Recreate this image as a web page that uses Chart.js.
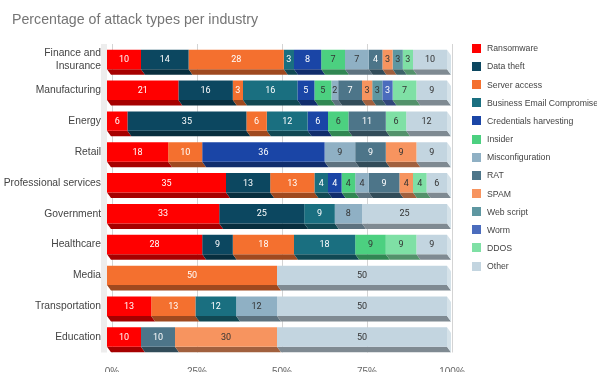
<!DOCTYPE html>
<html>
<head>
<meta charset="utf-8">
<title>Percentage of attack types per industry</title>
<script src="https://cdn.jsdelivr.net/npm/chart.js@4.4.1/dist/chart.umd.min.js"></script>
<style>
  body { margin: 0; background: #fff; }
  #wrap { position: relative; width: 597px; height: 372px; overflow: hidden; }
  #titulo { position: absolute; left: 12px; top: 11px; font: 14.2px/17px "Liberation Sans", Arial, sans-serif; color: #757575; white-space: nowrap; }
  #leyenda { position: absolute; left: 0; top: 0; font: 8.7px "Liberation Sans", Arial, sans-serif; color: #444; }
  .item { position: absolute; left: 472px; height: 10px; display: flex; align-items: center; white-space: nowrap; }
  .caja { width: 9px; height: 9px; margin-right: 6px; flex: none; }
</style>
</head>
<body>
<div id="wrap">
  <canvas id="grafico" width="597" height="372"></canvas>
  <div id="titulo">Percentage of attack types per industry</div>
  <div id="leyenda"></div>
</div>
<script>
// --- Datos ---
const industrias = [['Finance and', 'Insurance'], 'Manufacturing', 'Energy', 'Retail', 'Professional services',
                    'Government', 'Healthcare', 'Media', 'Transportation', 'Education'];

const tiposAtaque = ['Ransomware', 'Data theft', 'Server access', 'Business Email Compromise',
                     'Credentials harvesting', 'Insider', 'Misconfiguration', 'RAT', 'SPAM',
                     'Web script', 'Worm', 'DDOS', 'Other'];

// un arreglo por tipo de ataque, en el orden de las industrias
const ransomware   = [10, 21,  6, 18, 35, 33, 28,  0, 13, 10];
const dataTheft    = [14, 16, 35,  0, 13, 25,  9,  0,  0,  0];
const serverAccess = [28,  3,  6, 10, 13,  0, 18, 50, 13,  0];
const bec          = [ 3, 16, 12,  0,  4,  9, 18,  0, 12,  0];
const credenciales = [ 8,  5,  6, 36,  4,  0,  0,  0,  0,  0];
const insider      = [ 7,  5,  6,  0,  4,  0,  9,  0,  0,  0];
const misconfig    = [ 7,  2,  0,  9,  4,  8,  0,  0, 12,  0];
const rat          = [ 4,  7, 11,  9,  9,  0,  0,  0,  0, 10];
const spam         = [ 3,  3,  0,  9,  4,  0,  0,  0,  0, 30];
const webScript    = [ 3,  3,  0,  0,  0,  0,  0,  0,  0,  0];
const worm         = [ 0,  3,  0,  0,  0,  0,  0,  0,  0,  0];
const ddos         = [ 3,  7,  6,  0,  4,  0,  9,  0,  0,  0];
const otros        = [10,  9, 12,  9,  6, 25,  9, 50, 50, 50];

const ticksX = [0, 25, 50, 75, 100];

const series = [ransomware, dataTheft, serverAccess, bec, credenciales, insider,
                misconfig, rat, spam, webScript, worm, ddos, otros];

const colores = ['#ff0000', '#0c4760', '#f4702f', '#1a6f80', '#1a45a6', '#4cd080', '#8fb0c4',
                 '#4d7589', '#f7945f', '#5e97a1', '#4b6cbd', '#7fe0a5', '#c3d5e0'];

// color del número dentro de cada segmento
const colorTexto = ['#fff', '#fff', '#fff', '#fff', '#fff', '#333', '#333',
                    '#fff', '#333', '#333', '#fff', '#333', '#333'];

// --- Utilidades ---
function mezclar(hex, f, hacia) {
    const n = parseInt(hex.slice(1), 16);
    const c = [(n >> 16) & 255, (n >> 8) & 255, n & 255].map(v => Math.round(v + (hacia - v) * f));
    return `rgb(${c[0]},${c[1]},${c[2]})`;
}
const oscuros = colores.map(c => mezclar(c, 0.35, 0));
const claros = colores.map(c => mezclar(c, 0.3, 255));

// profundidad de las caras en 3D y corrección de la rejilla
const DX = 4, DY = 5.5, DESPLAZ = 5;

const efecto3D = {
    id: 'efecto3D',
    beforeDatasetsDraw(chart) {
        const { ctx, chartArea } = chart;
        const escalaX = chart.scales.x;
        ctx.save();

        // pared izquierda
        ctx.fillStyle = '#ededed';
        ctx.fillRect(chartArea.left - 6, chartArea.top, 6, chartArea.bottom - chartArea.top);

        // rejilla vertical
        ctx.strokeStyle = '#d4d4d4';
        ctx.lineWidth = 1;
        ticksX.forEach(v => {
            const px = Math.round(escalaX.getPixelForValue(v) + DESPLAZ) + 0.5;
            ctx.beginPath();
            ctx.moveTo(px, chartArea.top);
            ctx.lineTo(px, chartArea.bottom);
            ctx.stroke();
        });

        // caras inferiores
        chart.data.datasets.forEach((ds, i) => {
            chart.getDatasetMeta(i).data.forEach((barra, j) => {
                if (!ds.data[j]) return;
                const { x, y, base, height } = barra.getProps(['x', 'y', 'base', 'height'], true);
                const abajo = y + height / 2;
                ctx.fillStyle = oscuros[i];
                ctx.beginPath();
                ctx.moveTo(base, abajo);
                ctx.lineTo(x, abajo);
                ctx.lineTo(x + DX, abajo + DY);
                ctx.lineTo(base + DX, abajo + DY);
                ctx.closePath();
                ctx.fill();
            });
        });

        // cara derecha del último segmento de cada fila
        industrias.forEach((_, j) => {
            let ultimo = -1;
            series.forEach((s, i) => { if (s[j]) ultimo = i; });
            if (ultimo < 0) return;
            const barra = chart.getDatasetMeta(ultimo).data[j];
            const { x, y, height } = barra.getProps(['x', 'y', 'height'], true);
            const arriba = y - height / 2, abajo = y + height / 2;
            ctx.fillStyle = claros[ultimo];
            ctx.beginPath();
            ctx.moveTo(x, arriba);
            ctx.lineTo(x + DX, arriba + DY);
            ctx.lineTo(x + DX, abajo + DY);
            ctx.lineTo(x, abajo);
            ctx.closePath();
            ctx.fill();
        });
        ctx.restore();
    },
    afterDatasetsDraw(chart) {
        const { ctx } = chart;
        ctx.save();
        ctx.font = '9px Roboto, "Liberation Sans", sans-serif';
        ctx.textAlign = 'center';
        ctx.textBaseline = 'middle';
        chart.data.datasets.forEach((ds, i) => {
            chart.getDatasetMeta(i).data.forEach((barra, j) => {
                const v = ds.data[j];
                if (!v) return;
                const { x, y, base } = barra.getProps(['x', 'y', 'base'], true);
                ctx.fillStyle = colorTexto[i];
                ctx.fillText(v, (x + base) / 2, y + 0.5);
            });
        });
        ctx.restore();
    }
};

// --- Gráfico ---
const ctx = document.getElementById('grafico').getContext('2d');
new Chart(ctx, {
    type: 'bar',
    data: {
        labels: industrias,
        datasets: tiposAtaque.map((nombre, i) => ({
            label: nombre,
            data: series[i],
            backgroundColor: colores[i],
            borderWidth: 0,
            barPercentage: 0.63,
            categoryPercentage: 1
        }))
    },
    options: {
        indexAxis: 'y',
        responsive: false,
        animation: false,
        layout: { padding: { left: 0, right: 150, top: 44, bottom: 0 } },
        plugins: {
            legend: { display: false },
            tooltip: { enabled: false }
        },
        scales: {
            x: {
                stacked: true,
                min: 0,
                max: 100,
                grid: { display: false },
                border: { display: false },
                afterFit: s => { s.height = 19.5; },
                afterBuildTicks: s => { s.ticks = ticksX.map(v => ({ value: v })); },
                ticks: {
                    callback: v => v + '%',
                    labelOffset: DESPLAZ,
                    padding: 6,
                    color: '#666',
                    maxRotation: 0,
                    font: { family: '"Liberation Sans", Arial, sans-serif', size: 10 }
                }
            },
            y: {
                stacked: true,
                grid: { display: false, drawTicks: false },
                border: { display: false },
                afterFit: s => { s.width = 107; },
                ticks: {
                    padding: 6,
                    color: '#444',
                    font: { family: '"Liberation Sans", Arial, sans-serif', size: 10.3, lineHeight: 1.3 }
                }
            }
        }
    },
    plugins: [efecto3D]
});

// --- Leyenda ---
const leyenda = document.getElementById('leyenda');
tiposAtaque.forEach((nombre, i) => {
    const div = document.createElement('div');
    div.className = 'item';
    div.style.top = (43.3 + i * 18.15) + 'px';
    div.innerHTML = `<span class="caja" style="background:${colores[i]}"></span>${nombre}`;
    leyenda.appendChild(div);
});
</script>
</body>
</html>
